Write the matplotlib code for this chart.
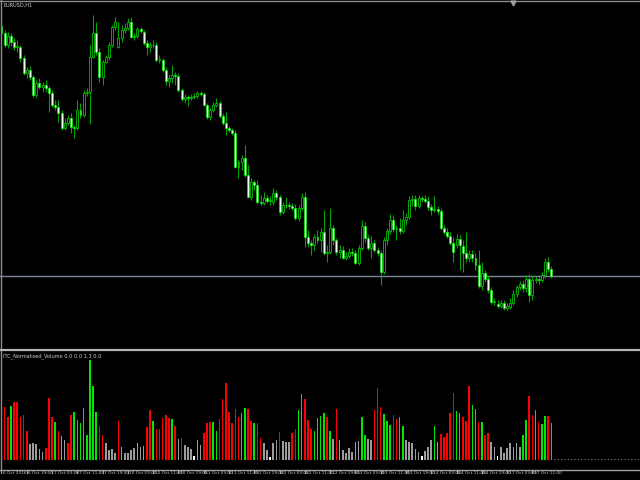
import numpy as np
import matplotlib
matplotlib.use("Agg")
from matplotlib import pyplot as plt
from matplotlib.lines import Line2D

symbol_label = "EURUSD,H1"
indicator_label = "ITC_Normalised_Volume 0.0 0.0 1.3 0.0"

# H1 candles, prices in points (price * 10000)
opens = [11224, 11217, 11205, 11214, 11208, 11203, 11203, 11192, 11177, 11180,
         11173, 11155, 11167, 11163, 11165, 11162, 11157, 11145, 11143, 11137,
         11122, 11127, 11132, 11123, 11122, 11140, 11135, 11157, 11158, 11193,
         11217, 11198, 11173, 11188, 11193, 11205, 11223, 11203, 11212, 11220,
         11222, 11228, 11213, 11214, 11221, 11218, 11207, 11203, 11205, 11205,
         11190, 11190, 11180, 11169, 11172, 11175, 11174, 11160, 11151, 11153,
         11152, 11153, 11154, 11157, 11156, 11145, 11133, 11140, 11145, 11147,
         11134, 11127, 11122, 11120, 11117, 11083, 11088, 11092, 11075, 11053,
         11068, 11065, 11048, 11047, 11052, 11049, 11048, 11057, 11053, 11038,
         11045, 11045, 11044, 11042, 11032, 11042, 11053, 11013, 11007, 11005,
         11013, 11010, 11018, 10997, 10998, 11022, 11010, 10998, 11000, 10992,
         10994, 10998, 10997, 10987, 11002, 11024, 11012, 11002, 11007, 11000,
         10997, 10978, 11010, 11019, 11030, 11021, 11022, 11019, 11030, 11033,
         11050, 11051, 11044, 11052, 11051, 11049, 11043, 11040, 11041, 11039,
         11022, 11018, 11014, 11007, 11005, 11011, 11004, 10997, 10992, 10996,
         10992, 10985, 10964, 10977, 10971, 10960, 10948, 10946, 10944, 10947,
         10942, 10943, 10947, 10956, 10963, 10966, 10962, 10971, 10955, 10970,
         10971, 10970, 10975, 10988, 10981]
highs = [11228, 11220, 11218, 11217, 11212, 11210, 11205, 11195, 11183, 11184,
         11175, 11170, 11172, 11168, 11170, 11164, 11160, 11150, 11150, 11140,
         11132, 11135, 11137, 11125, 11150, 11147, 11160, 11162, 11205, 11235,
         11228, 11202, 11190, 11195, 11208, 11225, 11233, 11228, 11225, 11227,
         11232, 11233, 11217, 11223, 11223, 11220, 11210, 11208, 11210, 11208,
         11195, 11192, 11183, 11176, 11185, 11178, 11177, 11162, 11156, 11155,
         11156, 11157, 11159, 11159, 11158, 11147, 11142, 11148, 11152, 11149,
         11137, 11138, 11124, 11122, 11120, 11090, 11095, 11105, 11085, 11072,
         11070, 11070, 11055, 11058, 11055, 11054, 11062, 11060, 11055, 11048,
         11053, 11048, 11047, 11046, 11045, 11057, 11058, 11020, 11010, 11016,
         11020, 11022, 11040, 11005, 11042, 11025, 11012, 11005, 11004, 10998,
         11002, 11002, 11000, 11005, 11030, 11028, 11015, 11014, 11010, 11003,
         11000, 11013, 11022, 11036, 11035, 11025, 11032, 11040, 11037, 11054,
         11055, 11055, 11055, 11054, 11055, 11054, 11046, 11054, 11044, 11042,
         11025, 11022, 11018, 11013, 11016, 11015, 11010, 11018, 11000, 11000,
         10997, 11000, 10988, 10980, 10974, 10963, 10952, 10950, 10950, 10950,
         10947, 10952, 10960, 10965, 10969, 10970, 10975, 10976, 10974, 10974,
         10973, 10978, 10992, 10993, 10984]
lows = [11214, 11203, 11202, 11204, 11200, 11198, 11188, 11175, 11172, 11170,
        11153, 11152, 11161, 11158, 11158, 11138, 11143, 11140, 11128, 11120,
        11120, 11125, 11117, 11112, 11120, 11132, 11133, 11154, 11126, 11192,
        11195, 11168, 11165, 11187, 11190, 11203, 11220, 11202, 11208, 11217,
        11220, 11212, 11210, 11212, 11217, 11205, 11195, 11198, 11202, 11188,
        11187, 11178, 11165, 11163, 11167, 11165, 11158, 11149, 11147, 11144,
        11150, 11151, 11152, 11154, 11144, 11131, 11130, 11138, 11143, 11132,
        11125, 11115, 11118, 11115, 11082, 11072, 11080, 11073, 11052, 11050,
        11060, 11046, 11045, 11045, 11047, 11045, 11045, 11050, 11035, 11036,
        11042, 11041, 11040, 11030, 11029, 11040, 11003, 11003, 10995, 11000,
        11007, 10998, 10995, 10988, 10996, 11005, 10995, 10992, 10991, 10990,
        10992, 10994, 10986, 10985, 11000, 11008, 11000, 10992, 10998, 10994,
        10965, 10976, 11005, 11016, 11018, 11010, 11016, 11017, 11025, 11031,
        11044, 11040, 11042, 11048, 11047, 11040, 11035, 11038, 11036, 11020,
        11016, 11012, 11005, 10988, 11002, 10980, 10978, 10988, 10988, 10988,
        10980, 10962, 10960, 10968, 10957, 10946, 10945, 10942, 10942, 10940,
        10940, 10941, 10945, 10953, 10960, 10958, 10958, 10948, 10950, 10967,
        10966, 10968, 10972, 10978, 10972]
closes = [11217, 11205, 11214, 11208, 11203, 11204, 11192, 11177, 11180, 11173,
          11155, 11167, 11163, 11165, 11162, 11157, 11145, 11143, 11137, 11122,
          11127, 11132, 11123, 11122, 11140, 11135, 11157, 11158, 11193, 11217,
          11198, 11173, 11188, 11193, 11205, 11223, 11228, 11212, 11220, 11222,
          11228, 11213, 11214, 11221, 11219, 11207, 11203, 11205, 11205, 11190,
          11191, 11180, 11169, 11172, 11175, 11174, 11160, 11151, 11153, 11152,
          11153, 11154, 11157, 11156, 11145, 11133, 11140, 11145, 11147, 11134,
          11127, 11122, 11120, 11117, 11083, 11088, 11092, 11075, 11053, 11068,
          11065, 11048, 11047, 11052, 11049, 11050, 11057, 11053, 11038, 11045,
          11045, 11044, 11042, 11032, 11042, 11053, 11013, 11007, 11005, 11013,
          11010, 11018, 10997, 10998, 11022, 11010, 10998, 11000, 10992, 10994,
          10998, 10997, 10987, 11002, 11024, 11012, 11002, 11007, 11000, 10997,
          10978, 11010, 11019, 11030, 11021, 11022, 11019, 11030, 11033, 11050,
          11051, 11044, 11052, 11051, 11049, 11043, 11040, 11041, 11039, 11022,
          11018, 11014, 11007, 10998, 11011, 11005, 10997, 10992, 10996, 10992,
          10985, 10964, 10977, 10971, 10960, 10948, 10949, 10944, 10947, 10942,
          10944, 10947, 10956, 10963, 10966, 10962, 10971, 10955, 10970, 10971,
          10970, 10975, 10988, 10981, 10974]
price_line = 10974

# normalised volume, one bar per candle; g=up, r=down, n=neutral, w=flat
volumes = [0.59, 0.53, 0.43, 0.54, 0.58, 0.58, 0.43, 0.45, 0.29, 0.16,
           0.17, 0.16, 0.11, 0.08, 0.12, 0.62, 0.43, 0.38, 0.29, 0.24,
           0.20, 0.17, 0.45, 0.48, 0.40, 0.37, 0.52, 0.25, 1.00, 0.74,
           0.48, 0.34, 0.25, 0.17, 0.10, 0.11, 0.07, 0.39, 0.13, 0.07,
           0.07, 0.10, 0.12, 0.17, 0.13, 0.14, 0.33, 0.50, 0.39, 0.31,
           0.31, 0.42, 0.45, 0.42, 0.41, 0.34, 0.21, 0.22, 0.15, 0.13,
           0.11, 0.04, 0.20, 0.15, 0.27, 0.37, 0.38, 0.38, 0.29, 0.41,
           0.61, 0.77, 0.48, 0.37, 0.51, 0.43, 0.47, 0.52, 0.51, 0.39,
           0.37, 0.37, 0.22, 0.17, 0.10, 0.03, 0.17, 0.20, 0.28, 0.19,
           0.18, 0.18, 0.27, 0.31, 0.50, 0.66, 0.61, 0.40, 0.31, 0.29,
           0.42, 0.44, 0.47, 0.43, 0.29, 0.21, 0.51, 0.20, 0.10, 0.07,
           0.12, 0.08, 0.18, 0.19, 0.43, 0.25, 0.21, 0.20, 0.50, 0.72,
           0.53, 0.46, 0.39, 0.35, 0.45, 0.41, 0.43, 0.34, 0.20, 0.18,
           0.17, 0.11, 0.08, 0.04, 0.09, 0.13, 0.20, 0.34, 0.18, 0.26,
           0.23, 0.27, 0.47, 0.67, 0.49, 0.47, 0.43, 0.39, 0.74, 0.55,
           0.51, 0.38, 0.38, 0.25, 0.27, 0.18, 0.13, 0.04, 0.13, 0.07,
           0.12, 0.17, 0.13, 0.17, 0.13, 0.25, 0.40, 0.64, 0.45, 0.50,
           0.38, 0.36, 0.44, 0.44, 0.37]
vol_kind = list("grrgrrrrrn" "nnnnrrrgrn" "nrrggggggg" "grrnnnnrnn"
                "nnnnnnrrgr" "rrrrgrnrnn" "nwnnrrrggr" "rrrrrrggrr"
                "grrnnwnnrn" "nnrrggrrrg" "gggrgnrnnn" "nnnnggnnrr"
                "rgggrrggnn" "nnnwnnngnr" "rrrrggrrrg" "grgrrnnwnn"
                "nnnnnggrrg" "rggr")

tick_idx = [0, 8, 16, 24, 32, 40, 48, 56, 64, 72, 80,
            88, 96, 104, 112, 120, 128, 136, 144, 152, 160, 168]
tick_labels = ["6 Oct 2016", "6 Oct 19:00", "7 Oct 03:00", "7 Oct 11:00",
               "7 Oct 19:00", "10 Oct 03:00", "10 Oct 11:00", "10 Oct 19:00",
               "11 Oct 03:00", "11 Oct 11:00", "11 Oct 19:00", "12 Oct 03:00",
               "12 Oct 11:00", "12 Oct 19:00", "13 Oct 03:00", "13 Oct 11:00",
               "13 Oct 19:00", "14 Oct 03:00", "14 Oct 11:00", "14 Oct 19:00",
               "17 Oct 03:00", "17 Oct 11:00"]

W, H = 640, 480
XMIN, XMAX = -0.47, 202.06
small_font = ["Liberation Sans Narrow", "DejaVu Sans"]

fig = plt.figure(figsize=(6.4, 4.8), dpi=100, facecolor="black")

# price window
ax = fig.add_axes([0, 1 - 347 / H, 1, 343 / H])
ax.set_axis_off()
o = np.array(opens) / 1e4
h = np.array(highs) / 1e4
l = np.array(lows) / 1e4
c = np.array(closes) / 1e4
x = np.arange(len(c))
ax.vlines(x, l, h, color="#00a400", lw=0.8, zorder=2)
bear = c < o
bot = np.minimum(o, c)
hgt = np.maximum(np.abs(c - o), 0.00004)
ax.bar(x[bear], hgt[bear], bottom=bot[bear], width=0.62, color="#e6ffe6",
       edgecolor="#00e600", linewidth=0.5, zorder=3)
ax.bar(x[~bear], hgt[~bear], bottom=bot[~bear], width=0.62, color="black",
       edgecolor="#00e600", linewidth=0.5, zorder=3)
ax.axhline(price_line / 1e4, color="#7c8896", lw=1, zorder=1)
ax.set_xlim(XMIN, XMAX)
ax.set_ylim(1.0903, 1.1246)

# volume window
ax2 = fig.add_axes([0, 20 / H, 1, 108 / H])
ax2.set_axis_off()
cmap = {"g": "#00e600", "r": "#ff0000", "n": "#9c9c9c", "w": "#ffffff"}
xv = np.arange(len(volumes))
ax2.bar(xv, volumes, width=0.5, color=[cmap[k] for k in vol_kind], linewidth=0)
ax2.hlines(0.006, len(volumes) - 0.3, XMAX, colors="#808080", lw=0.8,
           linestyles=(0, (1, 2)))
ax2.set_xlim(XMIN, XMAX)
ax2.set_ylim(0, 1.08)

# frame lines
fig.add_artist(Line2D([0, 1], [1 - 1 / H] * 2, color="#8c8c8c", lw=1))
fig.add_artist(Line2D([0.5 / W] * 2, [1 - 469 / H, 1], color="#8c8c8c", lw=1))
fig.add_artist(Line2D([0, 1], [1 - 349.5 / H] * 2, color="#b4b4b4", lw=1.6))
fig.add_artist(Line2D([0, 1], [1 - 469.5 / H] * 2, color="#a0a0a0", lw=1))
fig.add_artist(Line2D([513 / W], [1 - 3 / H], marker="v", markersize=3.5,
                      color="#a0a0a0", lw=0))

fig.text(3 / W, 1 - 2.5 / H, symbol_label, fontsize=3.6, color="#d0d0d0",
         va="top", ha="left", family=small_font)
fig.text(3 / W, 1 - 353 / H, indicator_label, fontsize=3.6, color="#d0d0d0",
         va="top", ha="left", family=small_font)

for idx, lab in zip(tick_idx, tick_labels):
    xp = (idx - XMIN) / (XMAX - XMIN)
    fig.add_artist(Line2D([xp, xp], [1 - 469.5 / H, 1 - 473 / H],
                          color="#a0a0a0", lw=0.8))
    fig.text(xp + 1.5 / W, 1 - 471 / H, lab, fontsize=3.1, color="#c8c8c8",
             va="top", ha="left", family=small_font)

plt.savefig("out.png", dpi=100, facecolor="black")
